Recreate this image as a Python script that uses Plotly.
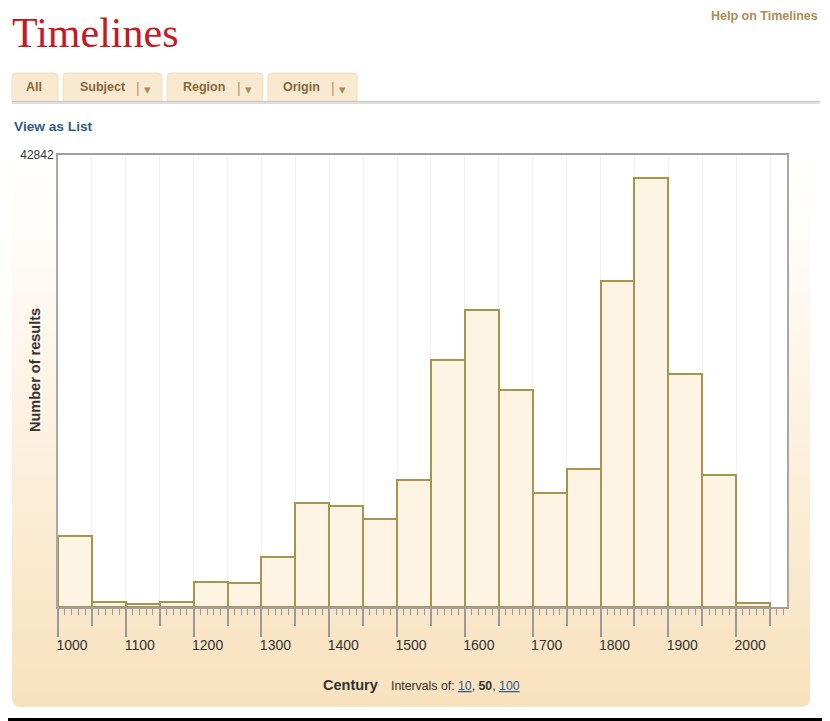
import base64

import plotly.graph_objects as go

# histogram of results per 50-year interval
interval_start = [1000, 1050, 1100, 1150, 1200, 1250, 1300, 1350, 1400, 1450, 1500,
                  1550, 1600, 1650, 1700, 1750, 1800, 1850, 1900, 1950, 2000]
results = [6760, 445, 315, 445, 2400, 2275, 4740, 9890, 9570, 8370, 12010,
           23440, 28150, 20600, 10840, 13080, 30870, 40690, 22060, 12540, 380]
y_max = 42842
tabs = ["All", "Subject", "Region", "Origin"]

# the page body adds an 8px margin, so the figure is drawn 8px in from the window edge
O = 8
W_FIG, H_FIG = 830 - O, 721 - O
L, T = 58 - O, 155 - O
R, B = W_FIG - (787 - O), H_FIG - (607 - O)
PW, PH = W_FIG - L - R, H_FIG - T - B


def px(x):
    # window pixel -> paper coordinate
    return (x - O - L) / PW


def py(y):
    return 1 - (y - O - T) / PH


FONT = "Liberation Sans, Arial, sans-serif"
TAB_TXT = "#86683a"

fig = go.Figure()
fig.add_trace(go.Bar(
    x=interval_start, y=results, offset=0, width=50,
    marker=dict(color="#fdf4e3", line=dict(color="#a8944c", width=2)),
    hoverinfo="x+y",
))
# empty trace so the 50-year tick axis is drawn
fig.add_trace(go.Scatter(x=[], y=[], xaxis="x2", showlegend=False))

xr = [1000, 2075]
fig.update_layout(
    width=W_FIG, height=H_FIG,
    margin=dict(l=L, r=R, t=T, b=B),
    paper_bgcolor="white", plot_bgcolor="white",
    showlegend=False, bargap=0,
    font=dict(family=FONT, color="#333"),
    xaxis=dict(
        range=xr, tick0=1000, dtick=100, ticks="outside", ticklen=28, tickwidth=2,
        tickcolor="#9a9a9a", showgrid=False, zeroline=False,
        showline=True, linecolor="#a0a0a0", linewidth=2, mirror=True,
        ticklabelshift=14, ticklabelstandoff=-4,
        tickfont=dict(size=14, color="#333"),
        minor=dict(dtick=10, tick0=1000, ticks="outside", ticklen=6, tickwidth=1,
                   tickcolor="#9a9a9a", showgrid=False),
    ),
    xaxis2=dict(
        range=xr, overlaying="x", side="bottom", tick0=1000, dtick=50,
        ticks="outside", ticklen=18, tickwidth=2, tickcolor="#9a9a9a",
        showticklabels=False, showgrid=True, gridcolor="#f1f1f1", gridwidth=1,
        zeroline=False, showline=False,
    ),
    yaxis=dict(
        range=[0, y_max], tickvals=[y_max], ticktext=[str(y_max)], ticks="",
        showgrid=False, zeroline=False, showline=True, linecolor="#a8a8a8",
        linewidth=2, mirror=True, tickfont=dict(size=12, color="#333"),
    ),
)

# gradient panel behind the chart
svg = ('<svg xmlns="http://www.w3.org/2000/svg" width="798" height="567" '
       'viewBox="0 0 798 567" preserveAspectRatio="none"><defs>'
       '<linearGradient id="g" x1="0" y1="0" x2="0" y2="1">'
       '<stop offset="0" stop-color="#ffffff"/>'
       '<stop offset="0.15" stop-color="#fffdf9"/>'
       '<stop offset="1" stop-color="#f8e1bd"/></linearGradient></defs>'
       '<rect x="0" y="0" width="798" height="567" rx="8" ry="8" fill="url(#g)"/></svg>')
src = "data:image/svg+xml;base64," + base64.b64encode(svg.encode()).decode()
fig.add_layout_image(dict(
    source=src, xref="paper", yref="paper", x=px(12), y=py(140),
    sizex=798 / PW, sizey=567 / PH, xanchor="left", yanchor="top",
    sizing="stretch", layer="below",
))

shapes = []
# white plot area over the panel
shapes.append(dict(type="rect", xref="paper", yref="paper", x0=0, x1=1, y0=0, y1=1,
                   fillcolor="white", line=dict(width=0), layer="below"))


def tab_path(x0, x1, y0, y1, r=4):
    return (f"M {px(x0)},{py(y1)} L {px(x0)},{py(y0 + r)} "
            f"Q {px(x0)},{py(y0)} {px(x0 + r)},{py(y0)} "
            f"L {px(x1 - r)},{py(y0)} Q {px(x1)},{py(y0)} {px(x1)},{py(y0 + r)} "
            f"L {px(x1)},{py(y1)} Z")


tab_boxes = [(12, 58), (63, 162), (167, 263), (268, 357)]
for x0, x1 in tab_boxes:
    shapes.append(dict(type="path", xref="paper", yref="paper", path=tab_path(x0, x1, 73, 101),
                       fillcolor="#f8e9d0", line=dict(color="#f1dfc0", width=1)))
# line under the tabs
shapes.append(dict(type="rect", xref="paper", yref="paper", x0=px(12), x1=px(820),
                   y0=py(104), y1=py(101), fillcolor="#dedede", line=dict(width=0)))
shapes.append(dict(type="line", xref="paper", yref="paper", x0=px(12), x1=px(820),
                   y0=py(101.5), y1=py(101.5), line=dict(color="#c8c8c8", width=1)))
# right and bottom black edges of the screenshot frame
shapes.append(dict(type="line", xref="paper", yref="paper", x0=px(826), x1=px(826),
                   y0=py(8), y1=py(721), line=dict(color="black", width=3)))
shapes.append(dict(type="line", xref="paper", yref="paper", x0=px(8), x1=px(830),
                   y0=py(719.5), y1=py(719.5), line=dict(color="black", width=3)))
fig.update_layout(shapes=shapes)

ann = []
ann.append(dict(text="Timelines", x=px(10), y=py(33), xanchor="left", yanchor="middle",
                font=dict(family="Liberation Serif, Times New Roman, serif", size=42, color="#c61a22")))
ann.append(dict(text="<b>Help on Timelines</b>", x=px(820), y=py(16), xanchor="right",
                yanchor="middle", font=dict(size=12.5, color="#b08a55")))
ann.append(dict(text="<b>View as List</b>", x=px(12), y=py(126), xanchor="left",
                yanchor="middle", font=dict(size=13.7, color="#2f5b8d")))

tab_text_x = [34, 78, 181, 281]
tab_sep_x = [None, 138, 239, 333]
for name, tx, sx in zip(tabs, tab_text_x, tab_sep_x):
    ann.append(dict(text=f"<b>{name}</b>", x=px(tx), y=py(87),
                    xanchor="center" if sx is None else "left", yanchor="middle",
                    font=dict(size=12.5, color=TAB_TXT)))
    if sx is not None:
        ann.append(dict(text="|", x=px(sx), y=py(88), xanchor="center", yanchor="middle",
                        font=dict(size=14, color="#b8975e")))
        ann.append(dict(text="▾", x=px(sx + 9), y=py(89), xanchor="center", yanchor="middle",
                        font=dict(family="DejaVu Sans", size=13, color="#a88a5a")))

ann.append(dict(text="<b>Number of results</b>", textangle=-90, x=px(35), y=py(370),
                xanchor="center", yanchor="middle", font=dict(size=14.5, color="#333")))
ann.append(dict(text="<b>Century</b>", x=px(380), y=py(685), xanchor="right", yanchor="middle",
                font=dict(size=14.5, color="#333")))
link = "#2f5b8d"
ann.append(dict(
    text=(f"Intervals of: <span style='color:{link}'><u>10</u></span>, "
          f"<b>50</b>, <span style='color:{link}'><u>100</u></span>"),
    x=px(389), y=py(686), xanchor="left", yanchor="middle",
    font=dict(size=12.3, color="#333")))
for a in ann:
    a.update(xref="paper", yref="paper", showarrow=False)
fig.update_layout(annotations=ann)

fig.write_html("out.html")
